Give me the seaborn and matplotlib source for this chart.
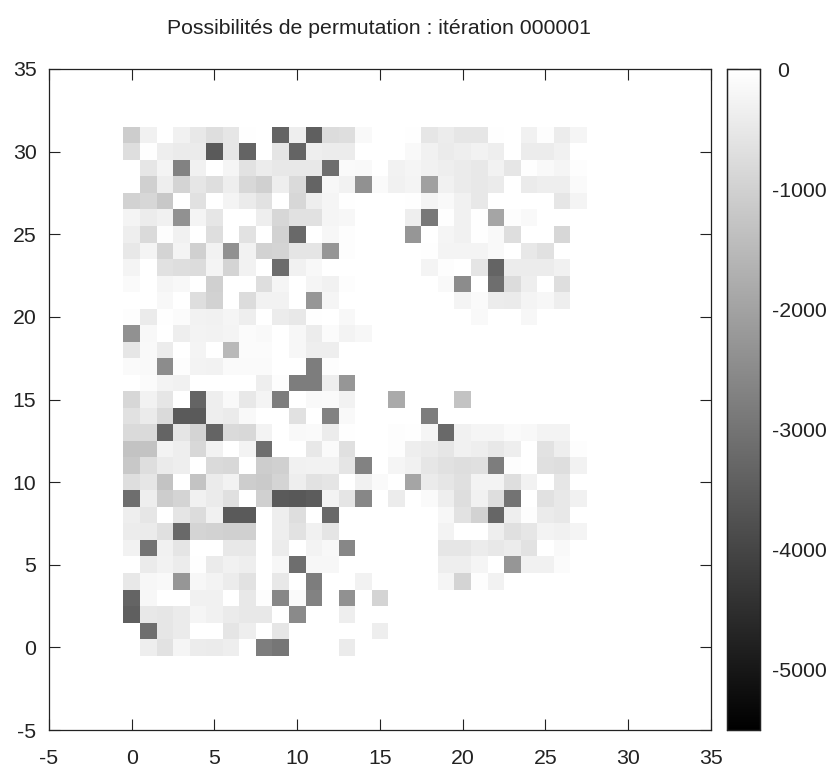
import pandas as pd
import matplotlib.pyplot as plt
import matplotlib.transforms as mtrans
import seaborn as sns

# valeurs, une liste par ligne y, colonnes x = 0, 1, 2...
# (les zeros de fin sont omis)
row_00 = [0, -370, -630, -220, -410, -450, -370, 0, -2800, -2960, 0, 0, 0, -450]
row_01 = [0, -3130, -540, -450, 0, 0, -580, -370, 0, -540, 0, 0, 0, 0, 0, -370]
row_02 = [-3450, -500, -540, -450, -220, -320, -450, -500, -500, 0, -2520, 0, 0, -370]
row_03 = [-3350, -190, 0, 0, -320, -320, 0, -500, -60, -2590, -110, -2700, 0, -2370, 0, -930]
row_04 = [-500, -190, -150, -2270, -190, -260, -410, -630, 0, -500, 0, -2800, 0, 0, -280, 0, 0, 0, 0, -220, -930, -60, -300]
row_05 = [0, -450, -280, -410, -40, -450, -320, -370, 0, -190, -3130, -190, -190, 0, 0, 0, 0, 0, 0, -370, -370, -220, 0, -2270, -320, -320, -90]
row_06 = [-280, -3020, -320, -580, 0, 0, -500, -500, 0, -410, 0, -260, -170, -2590, 0, 0, 0, 0, 0, -540, -540, -410, -500, -410, -630, 0, -150]
row_07 = [-410, -450, -670, -3240, -930, -970, -1010, -1010, 0, -370, -630, -320, -580, 0, 0, 0, 0, 0, 0, -260, 0, 0, -370, -670, -540, -260, -320, -240]
row_08 = [-370, -540, 0, -580, -760, -320, -3560, -3560, 0, -370, -710, 0, -3240, 0, 0, 0, 0, 0, 0, -190, -630, -970, -3300, -370, -60, -450, -500]
row_09 = [-3130, -370, -1080, -930, -320, -450, -670, 0, -1010, -3560, -3600, -3520, -260, -580, -2590, 0, -410, 0, -110, -370, -710, -320, -710, -3020, 0, -650, -500, -320]
row_10 = [-710, -540, -1290, 0, -1290, -450, -300, -1080, -1140, -930, -370, -630, -580, 0, -320, -110, 0, -1940, -430, -540, -670, -260, -260, -710, -280, 0, -540]
row_11 = [-1190, -710, -450, -370, 0, -800, -840, 0, -1080, -1010, -320, -280, -280, -580, -2700, 0, -220, -320, -540, -650, -710, -670, -2800, -60, 0, -670, -710, -280]
row_12 = [-1290, -1290, -260, -370, -840, -300, 0, -260, -3130, 0, 0, -500, -110, -670, 0, 0, -60, -370, -450, -540, -320, -370, -500, -370, 0, -630, -370, -60]
row_13 = [-800, -800, -3350, -580, -930, -3350, -800, -840, -260, 0, -130, -110, -410, -40, 0, 0, -60, -40, -220, -3240, -320, -220, -220, -110, -170, -260, -260]
row_14 = [-650, -450, -800, -3560, -3560, -370, -450, -150, 0, 0, -650, 0, -2700, -150, 0, 0, 0, 0, -2800]
row_15 = [-860, -280, -540, 0, -3350, -370, -150, -500, -240, -2800, 0, -150, -110, -280, 0, 0, -1830, 0, 0, 0, -1290]
row_16 = [0, -90, -260, -320, 0, 0, 0, 0, -370, -60, -2800, -2800, -370, -2270]
row_17 = [-110, -150, -2480, -60, -260, -300, -110, -110, -110, 0, 0, -2800, -60]
row_18 = [-540, -150, -410, 0, -240, 0, -1510, -90, -90, 0, -190, -370, -370]
row_19 = [-2370, -170, 0, -370, -260, -300, -240, -90, -130, 0, -190, -410, -90, -260, -190]
row_20 = [-60, -450, -40, -90, -280, -320, -220, -370, 0, -410, -500, -40, 0, -170, 0, 0, 0, 0, 0, 0, 0, -150, 0, 0, -190]
row_21 = [0, 0, -170, 0, -710, -970, 0, -760, -280, -280, 0, -2270, -220, 0, 0, 0, 0, 0, 0, 0, -240, -110, -410, -450, -240, -190, -370]
row_22 = [-110, 0, -220, -170, 0, -1010, 0, 0, -710, -220, 0, -220, -320, -60, 0, 0, 0, 0, 0, -150, -2480, 0, -3130, -760, -370, 0, -710]
row_23 = [-240, 0, -650, -710, -760, -240, -930, -280, 0, -3170, -320, -170, 0, 0, 0, 0, 0, 0, -240, -60, 0, -580, -3350, -410, -410, -410, -320]
row_24 = [-500, -240, -930, -240, -1010, -280, -2370, -280, -970, -930, -580, -580, -2270, -60, 0, 0, 0, 0, -40, -240, -240, -240, -150, 0, -500, -650]
row_25 = [-370, -800, -60, -320, 0, -710, 0, -630, 0, -970, -3240, 0, -190, -60, 0, 0, 0, -2270, 0, -220, -320, -40, -150, -710, 0, 0, -860]
row_26 = [-240, -410, -320, -2370, -240, -540, 0, 0, -370, -860, -650, -650, -220, -190, 0, 0, 0, -370, -2910, -40, -320, -40, -1940, -60, -150]
row_27 = [-970, -860, -1190, 0, -650, 0, -240, -450, -630, 0, -860, -370, -220, -40, 0, 0, 0, -40, -240, -150, -320, -500, 0, 0, 0, 0, -540, -240]
row_28 = [0, -1010, -370, -930, -540, -710, -370, -840, -1010, -370, -800, -3350, -190, -280, -2370, -110, -320, -240, -2050, -320, -450, -500, -450, 0, -450, -370, -370, -110]
row_29 = [0, -540, -240, -2700, -320, 0, -220, -630, -410, -500, -500, -500, -3130, -110, -150, 0, -280, -220, -320, -370, -450, -500, -280, -540, -40, -150, -220, -60]
row_30 = [-710, -40, -370, -450, -450, -3560, -540, -3350, 0, -580, -3350, -370, -410, -410, 0, 0, 0, -150, -320, -450, -370, -280, -370, 0, -410, -410, -320]
row_31 = [-1080, -320, 0, -320, -500, -710, -540, -40, 0, -3350, -370, -3450, -760, -710, -150, 0, 0, -40, -540, -410, -540, -540, -40, 0, -320, -60, -410, -220]

rows = [row_00, row_01, row_02, row_03, row_04, row_05, row_06, row_07,
        row_08, row_09, row_10, row_11, row_12, row_13, row_14, row_15,
        row_16, row_17, row_18, row_19, row_20, row_21, row_22, row_23,
        row_24, row_25, row_26, row_27, row_28, row_29, row_30, row_31]
axis_ticks = [-5, 0, 5, 10, 15, 20, 25, 30, 35]
cbar_ticks = [0, -1000, -2000, -3000, -4000, -5000]

sns.set_theme(style='white')
plt.rcParams['font.family'] = ['Liberation Sans', 'DejaVu Sans']
plt.rcParams['font.size'] = 15.3

df = pd.DataFrame(rows).fillna(0)

W, H = 828, 767
fig = plt.figure(figsize=(W / 100, H / 100), dpi=100)
ax = fig.add_axes([49 / W, 1 - 730 / H, 662 / W, 661 / H])
cax = fig.add_axes([727 / W, 1 - 730 / H, 33 / W, 661 / H])

sns.heatmap(df, ax=ax, cbar_ax=cax, cmap='gray', vmin=-5500, vmax=0,
            xticklabels=False, yticklabels=False)

# cellules centrees sur les entiers, comme gnuplot
ax.collections[0].set_transform(mtrans.Affine2D().translate(-0.5, -0.5) + ax.transData)
ax.set_xlim(-5, 35)
ax.set_ylim(-5, 35)
ax.set_aspect('auto')
ax.set_xticks(axis_ticks)
ax.set_yticks(axis_ticks)
ax.set_xticklabels(axis_ticks)
ax.set_yticklabels(axis_ticks)
ax.tick_params(direction='in', top=True, right=True, bottom=True, left=True,
               length=8, width=0.8, color='#222222', labelsize=15.3, labelcolor='#222222')
ax.tick_params(axis='x', pad=14)
ax.tick_params(axis='y', pad=9)
for s in ax.spines.values():
    s.set_visible(True)
    s.set_color('#222222')
    s.set_linewidth(0.9)

cax.set_yticks(cbar_ticks)
cax.set_yticklabels(cbar_ticks)
cax.tick_params(direction='in', left=True, right=True, length=8, width=0.8,
                color='#222222', labelsize=15.3, pad=9, labelcolor='#222222')
for s in cax.spines.values():
    s.set_visible(True)
    s.set_color('#222222')
    s.set_linewidth(0.9)

# le "0" de la barre est aligne sur les chiffres, pas sur le signe moins
zero_label = cax.get_yticklabels()[0]
zero_label.set_transform(zero_label.get_transform() + mtrans.Affine2D().translate(5, 0))

fig.text(379 / W, 1 - 29 / H, 'Possibilités de permutation : itération 000001',
         ha='center', va='center', fontsize=15.3, color='#222222')

fig.savefig('out.png', dpi=100)
plt.close(fig)
